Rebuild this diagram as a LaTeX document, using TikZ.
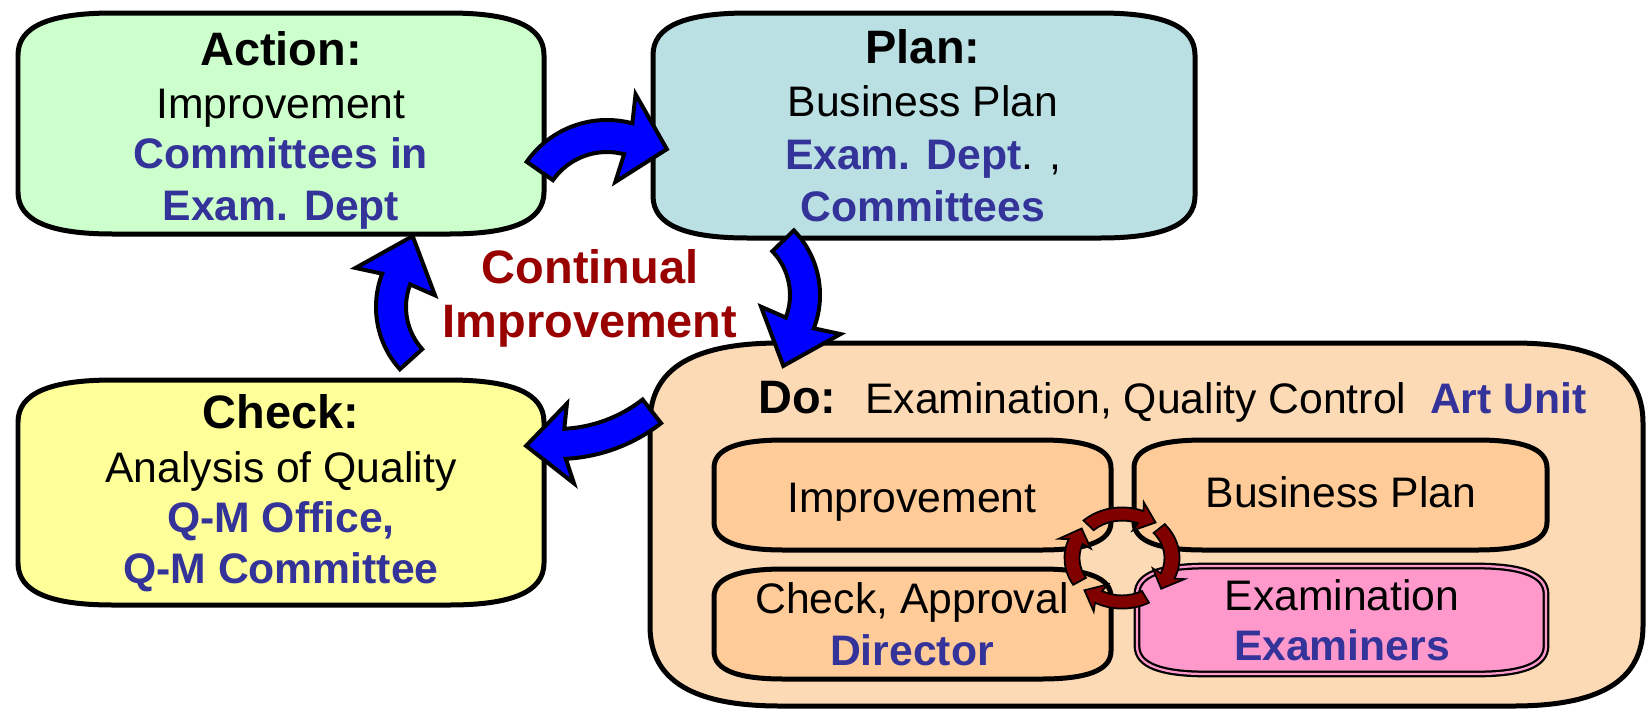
\documentclass[tikz,border=0pt]{standalone}
\usepackage{fontspec}
\setmainfont{Liberation Sans}
\usetikzlibrary{calc}
\definecolor{actfill}{HTML}{CCFFCC}
\definecolor{planfill}{HTML}{BBE0E3}
\definecolor{chkfill}{HTML}{FFFF99}
\definecolor{dofill}{HTML}{FCDAB5}
\definecolor{innerfill}{HTML}{FFCC99}
\definecolor{exfill}{HTML}{FF99CC}
\definecolor{pdblue}{HTML}{333399}
\definecolor{pdred}{HTML}{990000}
\definecolor{loopred}{HTML}{800000}
% box with bulging top and bottom: [style](x1,y1)(x2,y2){corner height}{corner width}
\def\pdcabox[#1](#2,#3)(#4,#5)#6#7{\draw[#1] (#2,#3+#6) .. controls (#2,#3+0.3*#6) and (#2+0.35*#7,#3) .. (#2+#7,#3) -- (#4-#7,#3) .. controls (#4-0.35*#7,#3) and (#4,#3+0.3*#6) .. (#4,#3+#6) -- (#4,#5-#6) .. controls (#4,#5-0.3*#6) and (#4-0.35*#7,#5) .. (#4-#7,#5) -- (#2+#7,#5) .. controls (#2+0.35*#7,#5) and (#2,#5-0.3*#6) .. (#2,#5-#6) -- cycle;}
% curved block arrow: [style](centre)(radius:from:to)(half band:half head:head back:tip length)
\def\cyclearrow[#1](#2)(#3:#4:#5)(#6:#7:#8:#9){%
	\pgfmathsetmacro\arsg{ifthenelse(#5>#4,1,-1)}%
	\pgfmathsetmacro\arbk{#5-\arsg*#8}%
	\pgfmathsetmacro\arro{#3+#6}\pgfmathsetmacro\arri{#3-#6}%
	\pgfmathsetmacro\arho{#3+#7}\pgfmathsetmacro\arhi{#3-#7}%
	\pgfmathsetmacro\artx{#3*cos(#5)+#9*cos(#5+\arsg*90)}%
	\pgfmathsetmacro\arty{#3*sin(#5)+#9*sin(#5+\arsg*90)}%
	\draw[shift={(#2)},#1] (#4:\arro) arc[start angle=#4,end angle=#5,radius=\arro] -- (\arbk:\arho) -- (\artx,\arty) -- (\arbk:\arhi) -- (#5:\arri) arc[start angle=#5,end angle=#4,radius=\arri] -- cycle;}

\begin{document}
\begin{tikzpicture}[x=0.02cm,y=-0.02cm,
	txt/.style={inner sep=0pt,anchor=base},
	head/.style={txt,font=\fontsize{26.7}{30}\selectfont\bfseries},
	body/.style={txt,font=\fontsize{24.3}{30}\selectfont},
	who/.style={txt,font=\fontsize{24.3}{30}\selectfont\bfseries,text=pdblue},
	cont/.style={txt,font=\fontsize{26.7}{30}\selectfont\bfseries,text=pdred},
	stage/.style={draw=black,line width=0.1cm,line join=round},
	bluearrow/.style={draw=black,fill=blue,line width=0.08cm,line join=miter},
	loop/.style={draw=black,fill=loopred,line width=0.035cm,yscale=0.88}]
	\useasboundingbox (0,0) rectangle (1647,711);
	
	%%%%% stages %%%%%
	\pdcabox[stage,fill=actfill](18,13)(544,234){42}{95}
	\pdcabox[stage,fill=planfill](653,13)(1195,238){42}{95}
	\pdcabox[stage,fill=chkfill](18,380)(544,605){42}{95}
	\pdcabox[stage,fill=dofill](650,343)(1643,706){80}{130}
	
	%%%%% inside Do %%%%%
	\pdcabox[stage,fill=innerfill](714,440)(1111,550){28}{70}
	\pdcabox[stage,fill=innerfill](1134,440)(1547,550){28}{70}
	\pdcabox[stage,fill=innerfill](714,569)(1111,679){28}{70}
	\pdcabox[draw=black,fill=exfill,line width=0.045cm,double=exfill,double distance=0.045cm](1137,566)(1546,674){28}{70}
	
	\cyclearrow[loop](1122,558)(50:228:292)(7.5:17:3:16)
	\cyclearrow[loop](1122,558)(50:-42:24)(7.5:17:3:16)
	\cyclearrow[loop](1122,558)(50:62:118)(7.5:17:3:16)
	\cyclearrow[loop](1122,558)(50:148:202)(7.5:17:3:16)
	
	%%%%% big arrows %%%%%
	\cyclearrow[bluearrow](607,218)(82:-145:-75)(16:45:2:40)
	\cyclearrow[bluearrow](727,295)(78:-44:21)(15:42:2:46)
	\cyclearrow[bluearrow](557,290)(154:52:87)(15:40:2:39)
	\cyclearrow[bluearrow](469,307)(78:138:201)(15:42:2:46)
	
	%%%%% texts %%%%%
	\node[head] (act-h) at (281,65) {Action:};
	\node[body] (act-1) at (281,118) {Improvement};
	\node[who] (act-2) at (281,168) {Committees in};
	\node[who] (act-3) at (281,220) {Exam. Dept};
	
	\node[head] (plan-h) at (923,63) {Plan:};
	\node[body] (plan-1) at (923,116) {Business Plan};
	\node[body] (plan-2) at (923,169) {\textcolor{pdblue}{\bfseries Exam. Dept}. ,};
	\node[who] (plan-3) at (923,221) {Committees};
	
	\node[head] (chk-h) at (281,428) {Check:};
	\node[body] (chk-1) at (281,482) {Analysis of Quality};
	\node[who] (chk-2) at (281,532) {Q-M Office,};
	\node[who] (chk-3) at (281,583) {Q-M Committee};
	
	\node[cont] (ci-1) at (590,283) {Continual};
	\node[cont] (ci-2) at (590,337) {Improvement};
	
	\node[head,anchor=base west] (do-h) at (758,413) {Do:};
	\node[body,anchor=base west] (do-t) at (865,413) {Examination, Quality Control};
	\node[who,anchor=base east] (do-u) at (1587,413) {Art Unit};
	
	\node[body] (in-imp) at (912,512) {Improvement};
	\node[body] (in-bp) at (1341,507) {Business Plan};
	\node[body] (in-chk) at (912,613) {Check, Approval};
	\node[who] (in-dir) at (912,665) {Director};
	\node[body] (in-ex) at (1342,610) {Examination};
	\node[who] (in-exs) at (1342,660) {Examiners};
\end{tikzpicture}
\end{document}
